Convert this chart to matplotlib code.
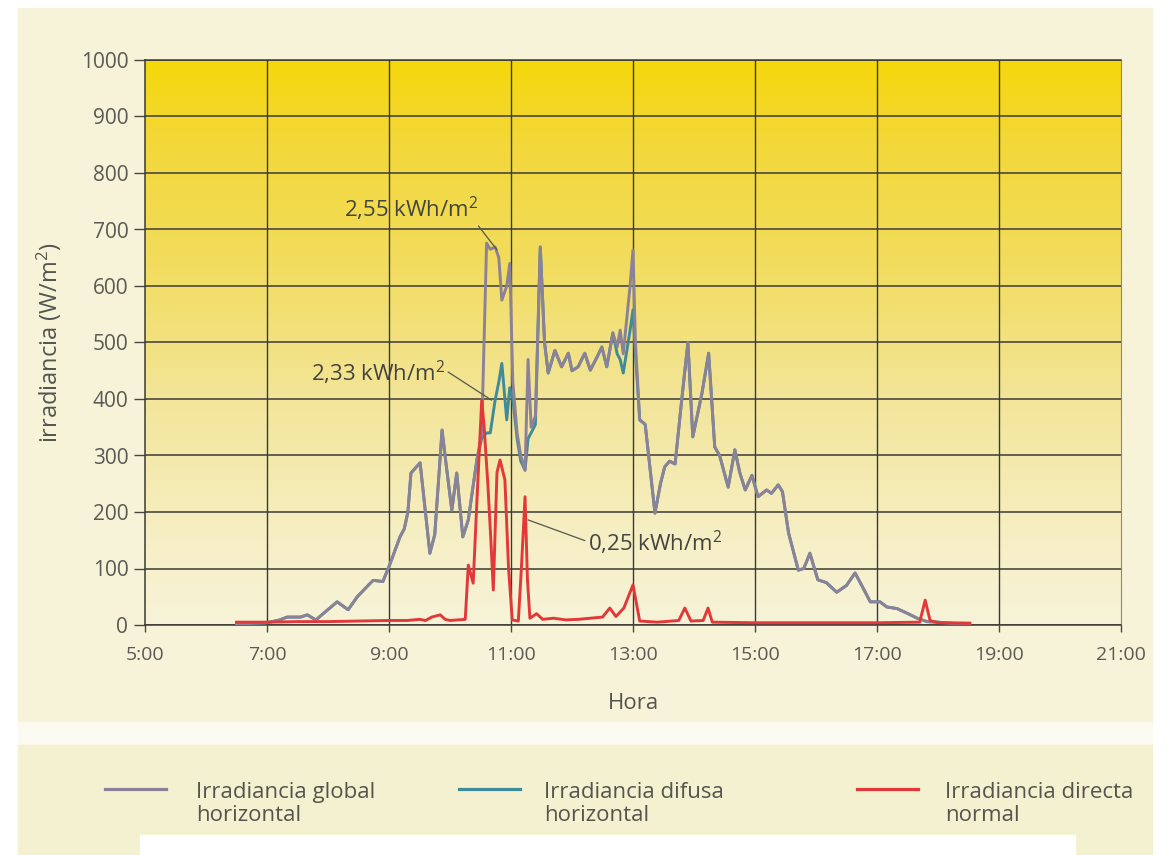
import matplotlib
matplotlib.use("Agg")
import matplotlib.pyplot as plt
import numpy as np
from matplotlib.colors import LinearSegmentedColormap
from matplotlib.lines import Line2D
from matplotlib.patches import Rectangle

plt.rcParams['font.family'] = ['Open Sans', 'DejaVu Sans']
plt.rcParams['mathtext.default'] = 'regular'

# horas (decimal) compartidas por global y difusa
hours = [6.50, 6.75, 7.00, 7.21, 7.33, 7.55, 7.66, 7.80, 8.15, 8.33, 8.48, 8.64,
         8.74, 8.90, 9.02, 9.18, 9.25, 9.31, 9.36, 9.51, 9.67, 9.75, 9.87, 9.93,
         10.03, 10.11, 10.21, 10.30, 10.44, 10.52, 10.60, 10.66, 10.74, 10.80, 10.85, 10.93,
         10.98, 11.03, 11.10, 11.16, 11.23, 11.28, 11.33, 11.40, 11.48, 11.55, 11.61, 11.72,
         11.83, 11.94, 12.00, 12.10, 12.21, 12.30, 12.41, 12.49, 12.57, 12.67, 12.74, 12.79,
         12.84, 12.95, 13.00, 13.04, 13.11, 13.20, 13.36, 13.45, 13.52, 13.60, 13.69, 13.80,
         13.90, 13.98, 14.13, 14.24, 14.34, 14.42, 14.56, 14.67, 14.75, 14.84, 14.95, 15.05,
         15.19, 15.27, 15.38, 15.45, 15.55, 15.71, 15.80, 15.90, 16.03, 16.17, 16.34, 16.50,
         16.64, 16.75, 16.89, 17.05, 17.16, 17.33, 17.49, 17.66, 17.82, 18.00, 18.25, 18.52]

global_h = [2, 3, 4, 9, 14, 14, 18, 9, 41, 27, 50, 68,
            79, 77, 109, 156, 170, 200, 269, 287, 127, 160, 345, 290,
            203, 269, 156, 186, 292, 340, 676, 665, 669, 650, 575, 600,
            640, 430, 340, 300, 274, 470, 350, 370, 669, 500, 446, 486,
            457, 481, 450, 457, 481, 451, 474, 492, 457, 517, 492, 522,
            480, 598, 664, 500, 363, 355, 198, 250, 280, 290, 285, 400,
            500, 333, 410, 481, 315, 300, 244, 310, 270, 239, 265, 227,
            239, 233, 248, 236, 163, 97, 100, 127, 80, 75, 58, 70,
            92, 70, 41, 41, 32, 29, 21, 12, 6, 5, 3, 3]

difusa_h = [2, 3, 4, 9, 14, 14, 18, 9, 41, 27, 50, 68,
            79, 77, 109, 156, 170, 200, 269, 287, 127, 160, 345, 290,
            203, 269, 156, 186, 292, 330, 340, 340, 398, 430, 463, 363,
            420, 400, 330, 290, 274, 330, 340, 355, 669, 500, 446, 486,
            457, 481, 450, 457, 481, 451, 474, 492, 457, 517, 480, 470,
            446, 520, 558, 480, 363, 355, 198, 250, 280, 290, 285, 400,
            500, 333, 410, 481, 315, 300, 244, 310, 270, 239, 265, 227,
            239, 233, 248, 236, 163, 97, 100, 127, 80, 75, 58, 70,
            92, 70, 41, 41, 32, 29, 21, 12, 6, 5, 3, 3]

hours_dn = [6.50, 7.00, 7.50, 8.00, 8.50, 9.00, 9.30, 9.50, 9.60, 9.70, 9.84, 9.92,
            10.00, 10.25, 10.30, 10.38, 10.45, 10.52, 10.56, 10.62, 10.67, 10.71, 10.77, 10.82,
            10.90, 10.96, 11.02, 11.12, 11.17, 11.23, 11.27, 11.31, 11.42, 11.52, 11.70, 11.90,
            12.10, 12.30, 12.50, 12.62, 12.72, 12.85, 13.00, 13.11, 13.40, 13.75, 13.85, 13.95,
            14.15, 14.23, 14.30, 15.00, 16.00, 17.00, 17.70, 17.79, 17.87, 18.00, 18.52]
directa_n = [5, 5, 6, 6, 7, 8, 8, 10, 8, 14, 18, 10,
             8, 10, 106, 74, 240, 398, 350, 250, 150, 62, 270, 292,
             257, 100, 9, 7, 100, 227, 80, 12, 20, 10, 12, 9,
             10, 12, 14, 30, 15, 30, 71, 7, 5, 8, 30, 7,
             8, 30, 5, 4, 4, 4, 5, 44, 8, 4, 3]

xticks = [5, 7, 9, 11, 13, 15, 17, 19, 21]
xlabels = ['5:00', '7:00', '9:00', '11:00', '13:00', '15:00', '17:00', '19:00', '21:00']
yticks = list(range(0, 1001, 100))

W, H = 1171, 855
fig = plt.figure(figsize=(W / 100, H / 100), dpi=100, facecolor='white')

def fr(x0, y0, x1, y1):
    # rectangulo en pixeles (origen arriba-izquierda) -> coords de figura
    return (x0 / W, 1 - y1 / H), (x1 - x0) / W, (y1 - y0) / H

for (x0, y0, x1, y1, c) in [(18, 8, 1152, 722, '#f6f3d9'),
                            (18, 722, 1152, 745, '#fbfaf0'),
                            (18, 745, 1152, 855, '#f4f1d0'),
                            (140, 835, 1075, 855, 'white')]:
    xy, w, h = fr(x0, y0, x1, y1)
    fig.add_artist(Rectangle(xy, w, h, transform=fig.transFigure, color=c, zorder=0))

ax = fig.add_axes([145 / W, 1 - 625 / H, (1121 - 145) / W, (625 - 60) / H])
ax.set_facecolor('none')

cmap = LinearSegmentedColormap.from_list('sol', [(0.0, '#f7f3d8'), (0.15, '#f6efc5'),
                                                  (0.4, '#f3e599'), (0.65, '#f2dc5c'),
                                                  (0.85, '#f3d83a'), (1.0, '#f5d70a')])
grad = np.linspace(0, 1, 256).reshape(-1, 1)
ax.imshow(grad, extent=[0, 1, 0, 1], transform=ax.transAxes, aspect='auto',
          cmap=cmap, origin='lower', zorder=0)

ax.plot(hours, difusa_h, color='#3f8b9a', lw=2.1, zorder=3, label='Irradiancia difusa\nhorizontal')
ax.plot(hours, global_h, color='#8c8298', lw=2.1, zorder=4, label='Irradiancia global\nhorizontal')
ax.plot(hours_dn, directa_n, color='#e2383a', lw=2.1, zorder=5, label='Irradiancia directa\nnormal')

ax.set_xlim(5, 21)
ax.set_ylim(0, 1000)
ax.set_xticks(xticks)
ax.set_xticklabels(xlabels)
ax.set_yticks(yticks)
for y in yticks:
    ax.axhline(y, color='#4a4840', lw=1.2, zorder=1)
for x in xticks[1:-1]:
    ax.axvline(x, color='#3a3a34', lw=1.0, zorder=1)

ax.tick_params(axis='both', colors='#4a4840', labelcolor='#5a5a55', width=1.0)
ax.tick_params(axis='x', length=5, pad=10, labelsize=14)
ax.tick_params(axis='y', length=8, pad=4, labelsize=15)
for s in ['left', 'bottom', 'top']:
    ax.spines[s].set_color('#3a3a34')
    ax.spines[s].set_linewidth(1.1)
ax.spines['right'].set_color('#8a8880')
ax.spines['right'].set_linewidth(0.8)

ax.set_xlabel('Hora', fontsize=16, color='#555550', labelpad=21)
ax.set_ylabel('irradiancia (W/m$^2$)', fontsize=17, color='#555550', labelpad=12)

ann = dict(fontsize=16, color='#444440', zorder=6)
ax.annotate('2,55 kWh/m$^2$', xy=(10.77, 664), xytext=(9.36, 736), ha='center', va='center',
            arrowprops=dict(arrowstyle='-', color='#555550', lw=0.9, relpos=(0.97, 0.1),
                            shrinkA=0, shrinkB=0), **ann)
ax.annotate('2,33 kWh/m$^2$', xy=(10.68, 398), xytext=(8.82, 446), ha='center', va='center',
            arrowprops=dict(arrowstyle='-', color='#555550', lw=0.9, relpos=(1.0, 0.6),
                            shrinkA=0, shrinkB=0), **ann)
ax.annotate('0,25 kWh/m$^2$', xy=(11.28, 186), xytext=(13.36, 145), ha='center', va='center',
            arrowprops=dict(arrowstyle='-', color='#555550', lw=0.9, relpos=(0.0, 0.55),
                            shrinkA=0, shrinkB=0), **ann)

# leyenda manual
handles = ax.get_lines()
leg_items = [(handles[1], 105, 166, 196), (handles[0], 459, 520, 544), (handles[2], 857, 918, 945)]
for ln, x0, x1, xt in leg_items:
    fig.add_artist(Line2D([x0 / W, x1 / W], [1 - 789 / H, 1 - 789 / H], transform=fig.transFigure,
                          color=ln.get_color(), lw=2.3))
    fig.text(xt / W, 1 - 804 / H, ln.get_label(), fontsize=16, color='#55554f',
             va='center', ha='left', linespacing=1.1)

fig.savefig('out.png', dpi=100)
